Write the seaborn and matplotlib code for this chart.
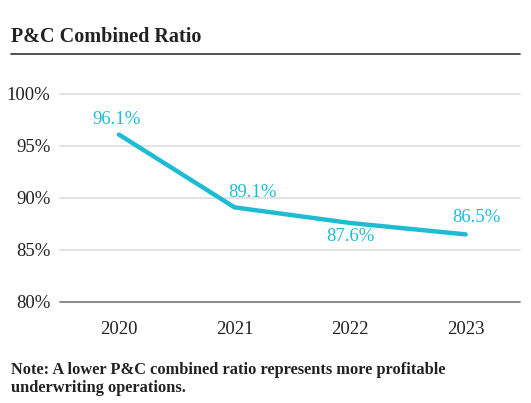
import pandas as pd
import matplotlib.pyplot as plt
import seaborn as sns
from matplotlib.lines import Line2D

# Dữ liệu
years = [2020, 2021, 2022, 2023]
ratios = [96.1, 89.1, 87.6, 86.5]
labels = ['96.1%', '89.1%', '87.6%', '86.5%']
yticks = [80, 85, 90, 95, 100]

data = pd.DataFrame({'Year': years, 'Ratio': ratios})

sns.set_style('white')
plt.rcParams['font.family'] = ['Liberation Serif', 'DejaVu Serif']

teal = '#1DBCD3'

fig = plt.figure(figsize=(5.31, 4.03), dpi=100)
ax = fig.add_axes([60 / 531, 1 - 302 / 403, 460 / 531, 208 / 403])

sns.lineplot(data=data, x='Year', y='Ratio', color=teal, linewidth=3.2, ax=ax,
             solid_capstyle='round')

ax.set_xlim(2020 - 0.51, 2023 + 0.47)
ax.set_ylim(80, 100)
ax.set_yticks(yticks)
ax.set_yticklabels([f'{t}%' for t in yticks])
ax.set_xticks(years)
ax.set_xticklabels([str(y) for y in years])
ax.set_xlabel('')
ax.set_ylabel('')

for t in yticks[1:]:
    ax.axhline(t, color='#dddddd', linewidth=1.2, zorder=0, clip_on=False)
ax.axhline(80, color='#8a8a8a', linewidth=1.4, zorder=0, clip_on=False)

for s in ax.spines.values():
    s.set_visible(False)
ax.tick_params(axis='both', length=0, labelsize=13.5, colors='#222222')
ax.tick_params(axis='y', pad=7)
ax.tick_params(axis='x', pad=14)

# Nhãn giá trị
offsets = [(-1.5, 11), (13, 10.5), (0, -10), (8, 12)]
for x, y, lab, off in zip(years, ratios, labels, offsets):
    ax.annotate(lab, (x, y), xytext=off, textcoords='offset points',
                ha='center', va='center', color=teal, fontsize=13.5)

# Tiêu đề và ghi chú
fig.text(11 / 531, 1 - 42 / 403, 'P&C Combined Ratio', fontsize=14.5,
         fontweight='bold', color='#222222', ha='left', va='baseline')
fig.add_artist(Line2D([11 / 531, 520 / 531], [1 - 54 / 403, 1 - 54 / 403],
                      color='#444444', linewidth=1.3))
note_lines = ['Note: A lower P&C combined ratio represents more profitable',
              'underwriting operations.']
for i, line in enumerate(note_lines):
    fig.text(11 / 531, 1 - (374 + 17.5 * i) / 403, line, fontsize=11.8,
             fontweight='bold', color='#222222', ha='left', va='baseline')

fig.savefig('out.png', dpi=100)
